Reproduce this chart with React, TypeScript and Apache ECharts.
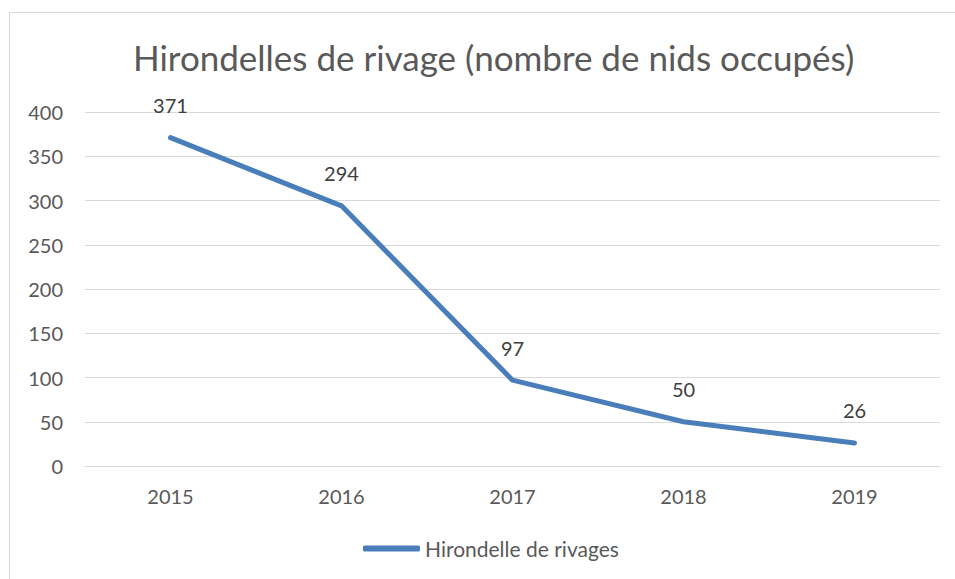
import React, { useEffect, useRef } from "react";
import * as echarts from "echarts";

const categories = ["2015", "2016", "2017", "2018", "2019"];
const values = [371, 294, 97, 50, 26];
const seriesName = "Hirondelle de rivages";
const titleText = "Hirondelles de rivage (nombre de nids occupés)";

export default function App() {
  const ref = useRef<HTMLDivElement>(null);
  useEffect(() => {
    if (!ref.current) return;
    const chart = echarts.init(ref.current, null, { renderer: "svg" });
    const font = "Lato, 'Open Sans', sans-serif";
    chart.setOption({
      animation: false,
      backgroundColor: "#ffffff",
      textStyle: { fontFamily: font },
      graphic: [
        {
          type: "rect",
          shape: { x: 9.5, y: 12.5, width: 960, height: 600 },
          style: { fill: "none", stroke: "#d9d9d9", lineWidth: 1 },
          silent: true,
        },
      ],
      title: {
        text: titleText,
        left: 128,
        top: 34,
        textStyle: { fontFamily: font, fontSize: 35, fontWeight: "normal", color: "#595959" },
      },
      legend: {
        bottom: 15,
        left: 358,
        itemWidth: 57,
        itemHeight: 6,
        itemGap: 4,
        icon: "roundRect",
        textStyle: { fontFamily: font, fontSize: 21, color: "#595959" },
        data: [seriesName],
      },
      grid: { left: 85, right: 15, top: 112, bottom: 113, containLabel: false },
      xAxis: {
        type: "category",
        data: categories,
        boundaryGap: true,
        axisLine: { show: true, lineStyle: { color: "#d9d9d9", width: 1 } },
        axisTick: { show: false },
        axisLabel: { fontFamily: font, fontSize: 20, color: "#595959", margin: 20 },
      },
      yAxis: {
        type: "value",
        min: 0,
        max: 400,
        interval: 50,
        axisLine: { show: false },
        axisTick: { show: false },
        splitLine: { lineStyle: { color: "#d9d9d9", width: 1 } },
        axisLabel: { fontFamily: font, fontSize: 20, color: "#595959", margin: 22 },
      },
      series: [
        {
          name: seriesName,
          type: "line",
          data: values,
          symbol: "circle",
          symbolSize: 1,
          showSymbol: true,
          lineStyle: { color: "#4a7ebb", width: 5, cap: "round", join: "round" },
          itemStyle: { color: "#4a7ebb" },
          label: {
            show: true,
            position: "top",
            distance: 22,
            fontFamily: font,
            fontSize: 20,
            color: "#404040",
          },
        },
      ],
    });
    return () => chart.dispose();
  }, []);
  return (
    <div
      ref={ref}
      style={{ position: "absolute", left: 0, top: 0, width: 955, height: 579 }}
    />
  );
}
